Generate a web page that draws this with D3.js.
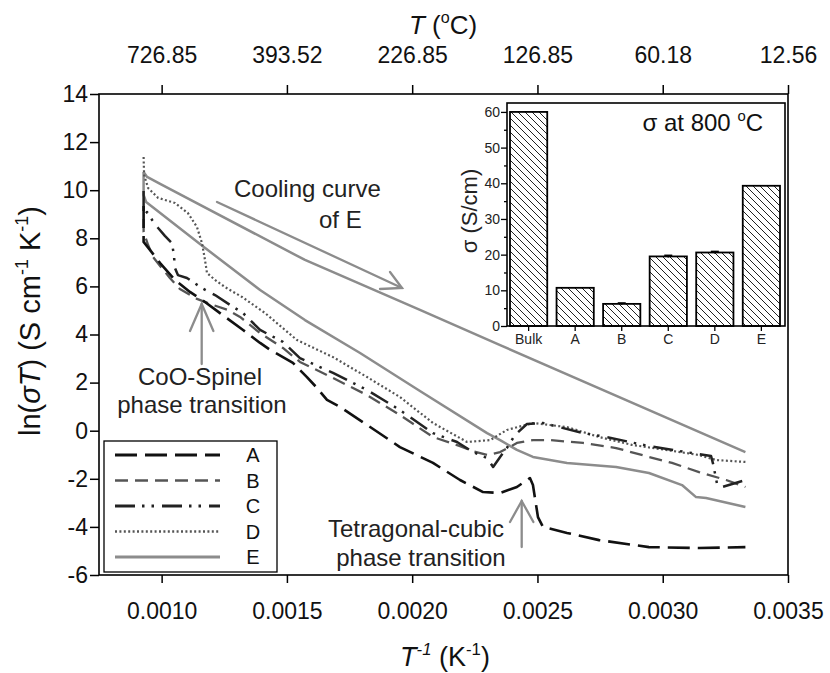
<!DOCTYPE html>
<html>
<head>
<meta charset="utf-8">
<script src="https://cdn.jsdelivr.net/npm/d3@7"></script>
<style>
  body { margin: 0; background: #fff; }
  svg { display: block; font-family: "Liberation Sans", Arial, sans-serif; }
</style>
</head>
<body>
<svg id="chart" width="830" height="673"></svg>
<script>
// ---- main plot: ln(sigma*T) versus 1/T, [1/T (K^-1), ln(sigma T)] ----
const curveA = [
  [0.000928, 9.34], [0.000928, 7.85], [0.000954, 7.51], [0.000994, 6.97], [0.001053, 6.27],
  [0.001113, 5.77], [0.001173, 5.35], [0.001233, 4.89], [0.001325, 4.19], [0.001393, 3.65],
  [0.001433, 3.36], [0.001524, 2.82], [0.001580, 2.23], [0.001620, 1.78], [0.001660, 1.28],
  [0.001712, 0.99], [0.001820, 0.24], [0.001951, -0.68], [0.002083, -1.34], [0.002191, -2.05],
  [0.002283, -2.55], [0.002351, -2.59], [0.002418, -2.34], [0.002470, -1.97], [0.002482, -2.26],
  [0.002502, -3.59], [0.002522, -4.00], [0.002618, -4.25], [0.002746, -4.55], [0.002945, -4.84],
  [0.003145, -4.88], [0.003330, -4.84]
];
const curveB = [
  [0.000928, 8.80], [0.000928, 8.26], [0.000946, 7.72], [0.000966, 7.22], [0.000994, 6.85],
  [0.001033, 6.35], [0.001073, 5.89], [0.001141, 5.48], [0.001193, 5.27], [0.001265, 5.02],
  [0.001313, 4.73], [0.001393, 4.06], [0.001484, 3.44], [0.001552, 2.86], [0.001684, 2.19],
  [0.001820, 1.48], [0.001951, 0.65], [0.002083, -0.26], [0.002191, -0.64], [0.002243, -0.85],
  [0.002299, -1.01], [0.002351, -0.89], [0.002418, -0.51], [0.002482, -0.39], [0.002550, -0.39],
  [0.002682, -0.51], [0.002814, -0.72], [0.002945, -1.09], [0.003037, -1.34], [0.003145, -1.72],
  [0.003253, -2.05], [0.003330, -2.34]
];
const curveC = [
  [0.000928, 9.97], [0.000928, 8.97], [0.000942, 9.09], [0.000962, 8.76], [0.000986, 8.43],
  [0.001013, 8.10], [0.001041, 7.80], [0.001049, 7.31], [0.001053, 6.77], [0.001065, 6.47],
  [0.001101, 6.35], [0.001161, 5.93], [0.001213, 5.64], [0.001273, 5.23], [0.001325, 4.89],
  [0.001393, 4.19], [0.001484, 3.69], [0.001552, 3.02], [0.001684, 2.40], [0.001820, 1.69],
  [0.001951, 0.86], [0.002083, -0.10], [0.002179, -0.47], [0.002243, -0.89], [0.002299, -1.14],
  [0.002323, -1.51], [0.002351, -1.09], [0.002378, -0.72], [0.002410, -0.18], [0.002458, 0.28],
  [0.002522, 0.32], [0.002682, -0.10], [0.002774, -0.26], [0.002945, -0.64], [0.003117, -0.93],
  [0.003193, -1.05], [0.003201, -1.38], [0.003217, -2.22], [0.003237, -2.34], [0.003330, -2.05]
];
const curveD = [
  [0.000928, 11.38], [0.000930, 10.63], [0.000946, 10.09], [0.000986, 9.68], [0.001053, 9.47],
  [0.001105, 9.05], [0.001141, 8.47], [0.001161, 7.80], [0.001173, 7.10], [0.001181, 6.56],
  [0.001213, 6.27], [0.001253, 5.97], [0.001321, 5.56], [0.001413, 4.89], [0.001540, 3.77],
  [0.001684, 3.06], [0.001820, 2.23], [0.001951, 1.40], [0.002083, 0.32], [0.002219, -0.47],
  [0.002311, -0.39], [0.002378, 0.03], [0.002482, 0.32], [0.002618, 0.15], [0.002746, -0.26],
  [0.002877, -0.59], [0.003013, -0.80], [0.003145, -1.01], [0.003213, -1.22], [0.003330, -1.30]
];
const curveEHeating = [
  [0.003330, -3.17], [0.003173, -2.80], [0.003133, -2.76], [0.003077, -2.26], [0.002945, -1.76],
  [0.002814, -1.51], [0.002618, -1.34], [0.002550, -1.22], [0.002482, -1.09], [0.002418, -0.80],
  [0.002351, -0.39], [0.002299, -0.10], [0.002031, 1.65], [0.001792, 3.23], [0.001572, 4.60],
  [0.001393, 5.85], [0.001153, 7.76], [0.000938, 9.51], [0.000928, 9.80], [0.000928, 10.76]
];
const curveECooling = [
  [0.000928, 10.76], [0.000942, 10.55], [0.000994, 10.26], [0.001572, 7.10],
  [0.002031, 5.02], [0.002351, 3.56], [0.003330, -0.89]
];

const invTTicks = [0.0010, 0.0015, 0.0020, 0.0025, 0.0030, 0.0035];
const celsiusTickLabels = ["726.85", "393.52", "226.85", "126.85", "60.18", "12.56"];
const lnTicks = [-6, -4, -2, 0, 2, 4, 6, 8, 10, 12, 14];
const legendLabels = ["A", "B", "C", "D", "E"];

// ---- inset: conductivity at 800 oC ----
const insetCategories = ["Bulk", "A", "B", "C", "D", "E"];
const insetSigma = [60, 10.7, 6.2, 19.5, 20.6, 39.3];
const insetError = [0, 0, 0.25, 0.3, 0.3, 0];
const insetTicks = [0, 10, 20, 30, 40, 50, 60];
const insetMinorTicks = [5, 15, 25, 35, 45, 55];

const svg = d3.select("#chart");
const FONT = 23;

// rich text helper: parts with optional italic / superscript
function richText(sel, parts, size) {
  let shift = 0;
  parts.forEach(p => {
    const ts = sel.append("tspan").text(p.t);
    if (p.i) ts.attr("font-style", "italic");
    const want = p.sup ? -0.42 * size : 0;
    ts.attr("dy", want - shift);
    shift = want;
    if (p.sup) ts.attr("font-size", size * 0.62);
  });
}

const x = d3.scaleLinear().domain([0.00075, 0.0035]).range([99, 788]);
const y = d3.scaleLinear().domain([-6, 14]).range([575, 94]);

// axes
const axisStyle = g => {
  g.select(".domain").remove();
  g.selectAll(".tick line").attr("stroke", "#000").attr("stroke-width", 1.5);
  g.selectAll(".tick text").attr("fill", "#111").attr("font-size", FONT)
    .attr("font-family", "Liberation Sans, Arial, sans-serif");
};
svg.append("g").attr("transform", "translate(0,575)")
  .call(d3.axisBottom(x).tickValues(invTTicks).tickFormat(d3.format(".4f"))
    .tickSize(8).tickSizeOuter(0).tickPadding(20))
  .call(axisStyle);
svg.append("g").attr("transform", "translate(0,94)")
  .call(d3.axisTop(x).tickValues(invTTicks).tickFormat((d, i) => celsiusTickLabels[i])
    .tickSize(9).tickSizeOuter(0).tickPadding(22))
  .call(axisStyle);
svg.append("g").attr("transform", "translate(99,0)")
  .call(d3.axisLeft(y).tickValues(lnTicks).tickFormat(d => String(d))
    .tickSize(9).tickSizeOuter(0).tickPadding(2))
  .call(axisStyle);

// plot frame
svg.append("rect").attr("x", x(0.00075)).attr("y", y(14))
  .attr("width", x(0.0035) - x(0.00075)).attr("height", y(-6) - y(14))
  .attr("fill", "none").attr("stroke", "#000").attr("stroke-width", 1.6);

// axis titles
const TITLE = 26;
richText(svg.append("text").attr("x", 443).attr("y", 34).attr("text-anchor", "middle")
  .attr("font-size", TITLE).attr("fill", "#111"),
  [{ t: "T", i: true }, { t: " (" }, { t: "o", sup: true }, { t: "C)" }], TITLE);
richText(svg.append("text").attr("x", 445).attr("y", 666).attr("text-anchor", "middle")
  .attr("font-size", 27).attr("fill", "#111"),
  [{ t: "T", i: true }, { t: "-1", sup: true, i: true }, { t: " (K" }, { t: "-1", sup: true }, { t: ")" }], 27);
richText(svg.append("text").attr("transform", "translate(40,321) rotate(-90)")
  .attr("text-anchor", "middle").attr("font-size", 29).attr("fill", "#111"),
  [{ t: "ln(" }, { t: "σT", i: true }, { t: ") (S cm" }, { t: "-1", sup: true }, { t: " K" },
   { t: "-1", sup: true }, { t: ")" }], 29);

// curves
const line = d3.line().x(d => x(d[0])).y(d => y(d[1]));
const styles = {
  A: { color: "#111", width: 2.6, dash: "22,8" },
  B: { color: "#555", width: 2.3, dash: "13,7" },
  C: { color: "#222", width: 2.5, dash: "20,7,2.5,7,2.5,8" },
  D: { color: "#555", width: 2.2, dash: "2,2.4" },
  E: { color: "#8c8c8c", width: 2.5, dash: null }
};
const curves = [
  { key: "E", data: curveEHeating }, { key: "E", data: curveECooling },
  { key: "D", data: curveD }, { key: "B", data: curveB },
  { key: "C", data: curveC }, { key: "A", data: curveA }
];
svg.append("g").selectAll("path").data(curves).join("path")
  .attr("d", c => line(c.data))
  .attr("fill", "none")
  .attr("stroke", c => styles[c.key].color)
  .attr("stroke-width", c => styles[c.key].width)
  .attr("stroke-dasharray", c => styles[c.key].dash)
  .attr("stroke-linejoin", "round");

// annotation arrows
const arrowColor = "#8c8c8c";
function arrow(x1, y1, x2, y2, w1, w2) {
  const g = svg.append("g").attr("stroke", arrowColor).attr("stroke-width", 2.3)
    .attr("fill", "none").attr("stroke-linecap", "round");
  g.append("line").attr("x1", x1).attr("y1", y1).attr("x2", x2).attr("y2", y2);
  g.append("polyline").attr("points", `${w1[0]},${w1[1]} ${x2},${y2} ${w2[0]},${w2[1]}`);
}
arrow(217, 202, 402, 288, [390, 272], [380, 289]);
arrow(201.7, 364, 201.7, 304, [190, 331], [213.4, 331]);
arrow(521.7, 547, 521.7, 501, [510, 522], [533.4, 522]);

const ANNOT = 24;
const annot = (tx, ty, s, anchor) => svg.append("text").attr("x", tx).attr("y", ty)
  .attr("text-anchor", anchor || "start").attr("font-size", ANNOT).attr("fill", "#222").text(s);
annot(234, 197, "Cooling curve");
annot(319, 228, "of E");
annot(200, 385, "CoO-Spinel", "middle");
annot(202, 413, "phase transition", "middle");
annot(416, 537, "Tetragonal-cubic", "middle");
annot(421, 566, "phase transition", "middle");

// legend
const legend = svg.append("g");
legend.append("rect").attr("x", 104).attr("y", 441).attr("width", 173).attr("height", 131)
  .attr("fill", "#fff").attr("stroke", "#000").attr("stroke-width", 1.3);
const legendY = d3.scalePoint().domain(legendLabels).range([455, 557]);
legendLabels.forEach(k => {
  legend.append("line").attr("x1", 115).attr("x2", 220)
    .attr("y1", legendY(k)).attr("y2", legendY(k))
    .attr("stroke", styles[k].color).attr("stroke-width", styles[k].width + 0.4)
    .attr("stroke-dasharray", styles[k].dash);
  legend.append("text").attr("x", 253).attr("y", legendY(k)).attr("dy", "0.36em")
    .attr("text-anchor", "middle").attr("font-size", 20).attr("fill", "#111").text(k);
});

// ---- inset bar chart ----
const defs = svg.append("defs");
defs.append("pattern").attr("id", "hatch").attr("patternUnits", "userSpaceOnUse")
  .attr("width", 7).attr("height", 7)
  .append("path").attr("d", "M-1,-1 L8,8 M-1,6 L1,8 M6,-1 L8,1")
  .attr("stroke", "#222").attr("stroke-width", 1);

const ix = d3.scaleBand().domain(insetCategories).range([510, 780]).paddingInner(0.2).paddingOuter(0);
const iy = d3.scaleLinear().domain([0, 62.5]).range([326, 103]);
const inset = svg.append("g");
inset.append("rect").attr("x", 507).attr("y", iy(62.5)).attr("width", 278)
  .attr("height", iy(0) - iy(62.5)).attr("fill", "#fff").attr("stroke", "#000").attr("stroke-width", 1.6);

inset.selectAll("rect.bar").data(insetCategories).join("rect").attr("class", "bar")
  .attr("x", d => ix(d)).attr("width", ix.bandwidth())
  .attr("y", (d, i) => iy(insetSigma[i])).attr("height", (d, i) => iy(0) - iy(insetSigma[i]))
  .attr("fill", "url(#hatch)").attr("stroke", "#000").attr("stroke-width", 1.8);

inset.selectAll("g.err").data(insetCategories.filter((d, i) => insetError[i] > 0)).join("g")
  .attr("class", "err").each(function (d) {
    const i = insetCategories.indexOf(d);
    const cx = ix(d) + ix.bandwidth() / 2;
    const g = d3.select(this).attr("stroke", "#000").attr("stroke-width", 1.6);
    g.append("line").attr("x1", cx).attr("x2", cx)
      .attr("y1", iy(insetSigma[i] - insetError[i])).attr("y2", iy(insetSigma[i] + insetError[i]));
    g.append("line").attr("x1", cx - 4).attr("x2", cx + 4)
      .attr("y1", iy(insetSigma[i] + insetError[i])).attr("y2", iy(insetSigma[i] + insetError[i]));
  });

const insetAxisStyle = g => {
  g.select(".domain").remove();
  g.selectAll(".tick line").attr("stroke", "#000").attr("stroke-width", 1.3);
  g.selectAll(".tick text").attr("fill", "#222").attr("font-size", 14)
    .attr("font-family", "Liberation Sans, Arial, sans-serif");
};
inset.append("g").attr("transform", `translate(0,${iy(0)})`)
  .call(d3.axisBottom(ix).tickSize(5).tickSizeOuter(0).tickPadding(3))
  .call(insetAxisStyle);
inset.append("g").attr("transform", "translate(507,0)")
  .call(d3.axisLeft(iy).tickValues(insetTicks).tickSize(6).tickSizeOuter(0).tickPadding(1))
  .call(insetAxisStyle);
inset.append("g").attr("transform", "translate(507,0)")
  .call(d3.axisLeft(iy).tickValues(insetMinorTicks).tickSize(3).tickSizeOuter(0).tickFormat(""))
  .call(insetAxisStyle);

richText(inset.append("text").attr("transform", "translate(477,211) rotate(-90)")
  .attr("text-anchor", "middle").attr("font-size", 22).attr("fill", "#222"),
  [{ t: "σ (S/cm)" }], 22);
richText(inset.append("text").attr("x", 763).attr("y", 131).attr("text-anchor", "end")
  .attr("font-size", 24).attr("fill", "#111"),
  [{ t: "σ at 800 " }, { t: "o", sup: true }, { t: "C" }], 24);
</script>
</body>
</html>
